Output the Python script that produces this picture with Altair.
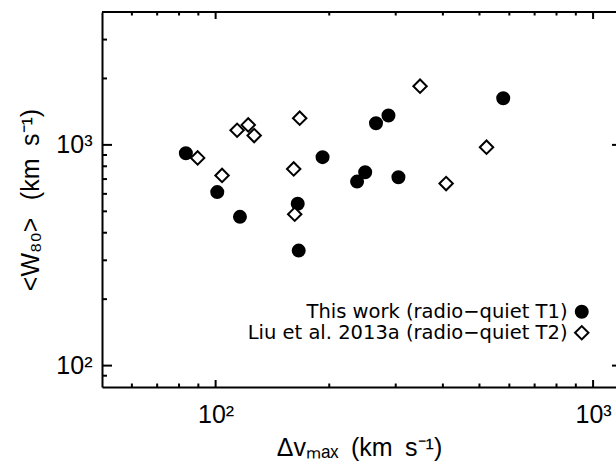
import altair as alt
import pandas as pd

# ---- data ----
t1_dv = [83.4, 101, 116, 165, 166, 192, 237, 249, 266, 287, 305, 578]
t1_w80 = [917, 611, 472, 541, 332, 880, 682, 752, 1254, 1359, 713, 1626]
t2_dv = [89.6, 104, 114, 122, 126.5, 167, 161, 162, 348, 408, 522]
t2_w80 = [873, 727, 1165, 1232, 1102, 1321, 778, 485, 1845, 668, 976]

series_labels = ["This work (radio\u2212quiet T1)", "Liu et al. 2013a (radio\u2212quiet T2)"]

x_major = [100, 1000]
x_minor = [60, 70, 80, 90, 200, 300, 400, 500, 600, 700, 800, 900]
y_major = [100, 1000]
y_minor = [90, 200, 300, 400, 500, 600, 700, 800, 900, 2000, 3000]

x_domain = [50, 1150]
y_domain = [80, 4000]

W, H = 514, 375

df = pd.DataFrame({
    "dv": t1_dv + t2_dv,
    "w80": t1_w80 + t2_w80,
    "series": [series_labels[0]] * len(t1_dv) + [series_labels[1]] * len(t2_dv),
})

xscale = alt.Scale(type="log", domain=x_domain, nice=False)
yscale = alt.Scale(type="log", domain=y_domain, nice=False)

LF = "Liberation Sans"
XTITLE = "\u0394v\u2098\u2090\u2093\u2002(km\u2002s\u207b\u00b9)"
YTITLE = "<W\u2088\u2080>\u2002\u2009(km\u2002s\u207b\u00b9)"

xaxis = alt.Axis(
    values=x_major, labelExpr="datum.value == 100 ? '10\u00b2' : '10\u00b3'",
    ticks=False, grid=False, domain=True, domainColor="black", domainWidth=2,
    labelFont=LF, labelFontSize=25, labelColor="black", labelPadding=15,
    labelOverlap=False, labelFlush=False,
    title=XTITLE, titleFont=LF, titleFontSize=25,
    titleFontWeight="normal", titleColor="black", titleY=68, titleBaseline="alphabetic",
)
yaxis = alt.Axis(
    values=y_major, labelExpr="datum.value == 100 ? '10\u00b2' : '10\u00b3'",
    ticks=False, grid=False, domain=True, domainColor="black", domainWidth=2,
    labelFont=LF, labelFontSize=25, labelColor="black", labelPadding=10,
    labelOverlap=False, labelFlush=False,
    title=YTITLE, titleFont=LF, titleFontSize=25,
    titleFontWeight="normal", titleColor="black", titleX=-64, titleBaseline="alphabetic",
)

legend = alt.Legend(
    title=None, orient="none", legendX=470, legendY=290,
    labelAlign="right", labelOffset=alt.ExprRef("-24"),
    labelFont="DejaVu Sans", labelFontSize=19.5,
    labelColor="black", labelLimit=0, symbolStrokeWidth=2,
    rowPadding=0, padding=0,
)

points = alt.Chart(df).mark_point(
    filled=True, strokeWidth=2, opacity=1
).encode(
    x=alt.X("dv:Q", scale=xscale, axis=xaxis),
    y=alt.Y("w80:Q", scale=yscale, axis=yaxis),
    shape=alt.Shape("series:N", scale=alt.Scale(domain=series_labels, range=["circle", "diamond"]), legend=legend),
    fill=alt.Fill("series:N", scale=alt.Scale(domain=series_labels, range=["black", "white"]), legend=legend),
    stroke=alt.Stroke("series:N", scale=alt.Scale(domain=series_labels, range=["black", "black"]), legend=legend),
    size=alt.Size("series:N", scale=alt.Scale(domain=series_labels, range=[144, 180]), legend=legend),
)


def xticks(vals, length, top):
    y0 = 0 if top else H
    y1 = length if top else H - length
    return alt.Chart(pd.DataFrame({"v": vals})).mark_rule(color="black", strokeWidth=2).encode(
        x=alt.X("v:Q", scale=xscale, axis=xaxis), y=alt.value(y0), y2=alt.value(y1)
    )


def yticks(vals, length, right):
    x0 = W + 6 if right else 0
    x1 = x0 - length if right else length
    return alt.Chart(pd.DataFrame({"v": vals})).mark_rule(color="black", strokeWidth=2).encode(
        y=alt.Y("v:Q", scale=yscale, axis=yaxis), x=alt.value(x0), x2=alt.value(x1)
    )


top_line = alt.Chart(pd.DataFrame({"a": [0]})).mark_rule(color="black", strokeWidth=2).encode(
    x=alt.value(0), x2=alt.value(W), y=alt.value(0)
)

layers = [
    xticks(x_major, 7, False), xticks(x_minor, 3.5, False),
    xticks(x_major, 7, True), xticks(x_minor, 3.5, True),
    yticks(y_major, 10, False), yticks(y_minor, 5, False),
    yticks(y_major, 10, True), yticks(y_minor, 5, True),
    top_line, points,
]

chart = alt.layer(*layers).properties(
    width=W, height=H,
    padding={"left": 102, "top": 12, "right": 0, "bottom": 462 - 12 - H},
    autosize=alt.AutoSizeParams(type="none"),
).configure_view(stroke=None)

chart.save("out.html", embed_options={"renderer": "svg", "actions": False})
